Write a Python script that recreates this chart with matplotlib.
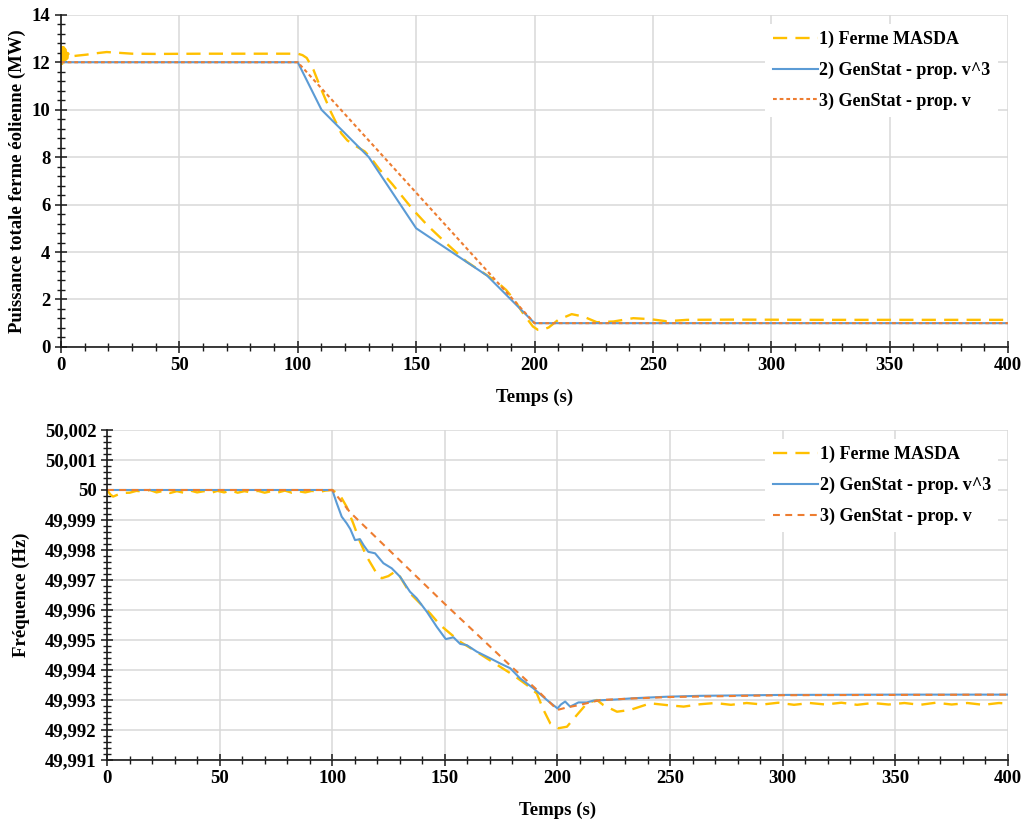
import matplotlib.pyplot as plt
from matplotlib.ticker import MultipleLocator

plt.rcParams["font.family"] = ["Liberation Serif", "DejaVu Serif"]
plt.rcParams["font.weight"] = "bold"

YELLOW = "#FFC000"
BLUE = "#5B9BD5"
ORANGE = "#ED7D31"

labels = ["1) Ferme MASDA", "2) GenStat - prop. v^3", "3) GenStat - prop. v"]

# --- top chart: total wind farm power (MW) ---
t_p_masda = [0, 0.2, 0.4, 0.6, 0.8, 1.0, 1.2, 1.4, 1.6, 1.8, 2.0, 2.3, 2.6, 3.0, 3.5,
             4.5, 7, 10.8, 15, 19.3, 24, 30, 40, 60, 80, 100, 102, 103.8, 106.6, 109.4,
             114, 118.4, 121, 124.8, 128.3, 131, 134.6, 140, 148.7, 155, 162.7, 171.2,
             179.6, 184, 188, 190.9, 193, 195.1, 199.3, 201.4, 203.5, 206, 210, 215.7,
             220.6, 226.3, 233.3, 241.7, 248.8, 255.8, 264.3, 284, 320, 400]
p_masda = [12.0, 12.8, 11.8, 12.75, 11.9, 12.7, 12.0, 12.6, 12.05, 12.55, 12.1, 12.45,
           12.15, 12.38, 12.2, 12.25, 12.28, 12.32, 12.38, 12.43, 12.40, 12.36, 12.35,
           12.36, 12.36, 12.36, 12.3, 12.18, 11.69, 10.98, 9.9, 9.0, 8.7, 8.45, 8.24,
           7.95, 7.47, 6.85, 5.78, 5.1, 4.37, 3.6, 3.04, 2.75, 2.4, 2.05, 1.75, 1.42,
           0.86, 0.72, 0.72, 0.82, 1.14, 1.38, 1.28, 1.04, 1.07, 1.21, 1.17, 1.08, 1.14,
           1.15, 1.14, 1.14]
t_p_v3 = [0, 100, 110, 130, 150, 180, 200, 400]
p_v3 = [12, 12, 10, 8, 5, 3, 1, 1]
t_p_v = [0, 100, 200, 400]
p_v = [12, 12, 1, 1]

# --- bottom chart: frequency, as offset from 50 Hz in mHz ---
t_f_masda = [0, 1.5, 2.7, 4, 5.6, 7, 10.1, 13, 16, 19, 22, 25, 28, 31, 34, 37, 40, 43,
             46, 49, 52, 55, 58, 61, 64, 67, 70, 73, 76, 79, 82, 85, 88, 91, 94, 97, 100,
             103.4, 106.4, 109.3, 112.3, 115.3, 119.7, 122, 124.9, 127.9, 130.1, 134.5,
             139, 143.4, 147.9, 152.3, 156.8, 162.7, 168.6, 174.5, 180.4, 186.4, 190.8,
             193.8, 196.8, 200.4, 204.2, 208.6, 213.1, 217.5, 220.4, 226.4, 232.3, 241.2,
             248.6, 256, 263.4, 270, 277, 284, 291, 298, 305, 312, 319, 326, 333, 340,
             347, 354, 361, 368, 375, 382, 389, 396, 400]
f_masda = [0, -0.15, -0.22, -0.18, -0.13, -0.1, -0.09, -0.03, -0.05, 0.0, -0.08, -0.03,
           -0.1, -0.04, -0.09, -0.02, -0.08, -0.04, -0.1, -0.03, -0.08, -0.02, -0.09,
           -0.04, -0.08, -0.03, -0.09, -0.04, -0.08, -0.02, -0.09, -0.04, -0.08, -0.03,
           -0.07, -0.02, 0.0, -0.17, -0.56, -1.11, -1.72, -2.22, -2.78, -2.94, -2.87,
           -2.72, -2.89, -3.44, -3.78, -4.11, -4.5, -4.78, -5.06, -5.33, -5.61, -5.89,
           -6.17, -6.5, -6.78, -7.33, -7.78, -7.94, -7.89, -7.5, -7.11, -7.0, -7.17,
           -7.39, -7.33, -7.11, -7.17, -7.22, -7.14, -7.1, -7.16, -7.1, -7.15, -7.09,
           -7.16, -7.1, -7.15, -7.09, -7.16, -7.1, -7.15, -7.1, -7.16, -7.09, -7.15,
           -7.1, -7.16, -7.1, -7.12]
t_f_v3 = [0, 100, 102, 104.2, 106.4, 108, 110.1, 112.3, 114, 116, 119, 122.7, 126.4,
          130.1, 134.5, 137.5, 142, 146.4, 150.4, 153.8, 156.8, 159.7, 164.2, 170.1,
          174.5, 179, 183.4, 189.3, 195.3, 200, 201.5, 203.4, 205.6, 207.5, 209.3, 213,
          216, 226.4, 233.8, 248.6, 263.4, 300, 350, 400]
f_v3 = [0, 0, -0.44, -0.89, -1.11, -1.3, -1.67, -1.64, -1.85, -2.06, -2.11, -2.44,
        -2.61, -2.89, -3.39, -3.61, -4.06, -4.56, -4.97, -4.91, -5.13, -5.17, -5.39,
        -5.61, -5.78, -5.94, -6.28, -6.61, -7.0, -7.28, -7.15, -7.05, -7.22, -7.15,
        -7.08, -7.08, -7.02, -6.98, -6.94, -6.89, -6.86, -6.83, -6.82, -6.82]
t_f_v = [0, 100, 108, 150, 179, 190, 200, 204, 209.5, 219, 233, 250, 300, 400]
f_v = [0, 0, -0.75, -3.8, -5.85, -6.6, -7.33, -7.25, -7.17, -7.0, -6.95, -6.9, -6.84, -6.82]

f_ticks = [2, 1, 0, -1, -2, -3, -4, -5, -6, -7, -8, -9]
f_ticklabels = ["50,002", "50,001", "50", "49,999", "49,998", "49,997", "49,996",
                "49,995", "49,994", "49,993", "49,992", "49,991"]

FS = 13.5


def style_axes(ax):
    for s in ["top", "right"]:
        ax.spines[s].set_visible(False)
    for s in ["left", "bottom"]:
        ax.spines[s].set_color("#1a1a1a")
        ax.spines[s].set_linewidth(1.2)
    ax.grid(True, which="major", color="#d9d9d9", linewidth=1.1)
    ax.set_axisbelow(True)
    ax.set_xlim(0, 400)
    ax.xaxis.set_major_locator(MultipleLocator(50))
    ax.xaxis.set_minor_locator(MultipleLocator(10))
    ax.tick_params(which="major", direction="inout", length=9, width=1.1,
                   color="#1a1a1a", labelsize=FS, pad=3)
    ax.tick_params(which="minor", direction="inout", length=6, width=1.0,
                   color="#1a1a1a")
    ax.set_xlabel("Temps (s)", fontsize=FS, fontweight="bold")


def add_legend(ax):
    leg = ax.legend(loc="upper right", bbox_to_anchor=(0.995, 0.99), frameon=True,
                    fontsize=13, handlelength=2.5, handletextpad=0.1,
                    labelspacing=0.75, borderaxespad=0.3)
    leg.get_frame().set_facecolor("white")
    leg.get_frame().set_edgecolor("none")
    leg.get_frame().set_alpha(1)


fig = plt.figure(figsize=(10.25, 8.22), dpi=100)

ax1 = fig.add_axes([0.0595, 0.578, 0.924, 0.404])
style_axes(ax1)
ax1.plot(t_p_masda, p_masda, color=YELLOW, lw=1.7, dashes=(6, 3.5), label=labels[0])
ax1.plot(t_p_v3, p_v3, color=BLUE, lw=1.5, label=labels[1])
ax1.plot(t_p_v, p_v, color=ORANGE, lw=1.5, dashes=(1.8, 1.4), label=labels[2])
ax1.set_ylim(0, 14)
ax1.yaxis.set_major_locator(MultipleLocator(2))
ax1.yaxis.set_minor_locator(MultipleLocator(0.4))
ax1.set_ylabel("Puissance totale ferme éolienne (MW)", fontsize=FS, fontweight="bold")
ax1.yaxis.set_label_coords(-0.037, 0.5)
ax1.xaxis.set_label_coords(0.5, -0.125)
add_legend(ax1)

ax2 = fig.add_axes([0.1044, 0.0754, 0.879, 0.4015])
style_axes(ax2)
ax2.plot(t_f_masda, f_masda, color=YELLOW, lw=1.7, dashes=(6, 3.5), label=labels[0])
ax2.plot(t_f_v3, f_v3, color=BLUE, lw=1.5, label=labels[1])
ax2.plot(t_f_v, f_v, color=ORANGE, lw=1.5, dashes=(3.3, 2.6), label=labels[2])
ax2.set_ylim(-9, 2)
ax2.set_yticks(f_ticks)
ax2.set_yticklabels(f_ticklabels)
ax2.yaxis.set_minor_locator(MultipleLocator(0.2))
ax2.set_ylabel("Fréquence (Hz)", fontsize=FS, fontweight="bold")
ax2.yaxis.set_label_coords(-0.086, 0.5)
ax2.xaxis.set_label_coords(0.5, -0.125)
add_legend(ax2)

fig.savefig("out.png", dpi=100)
